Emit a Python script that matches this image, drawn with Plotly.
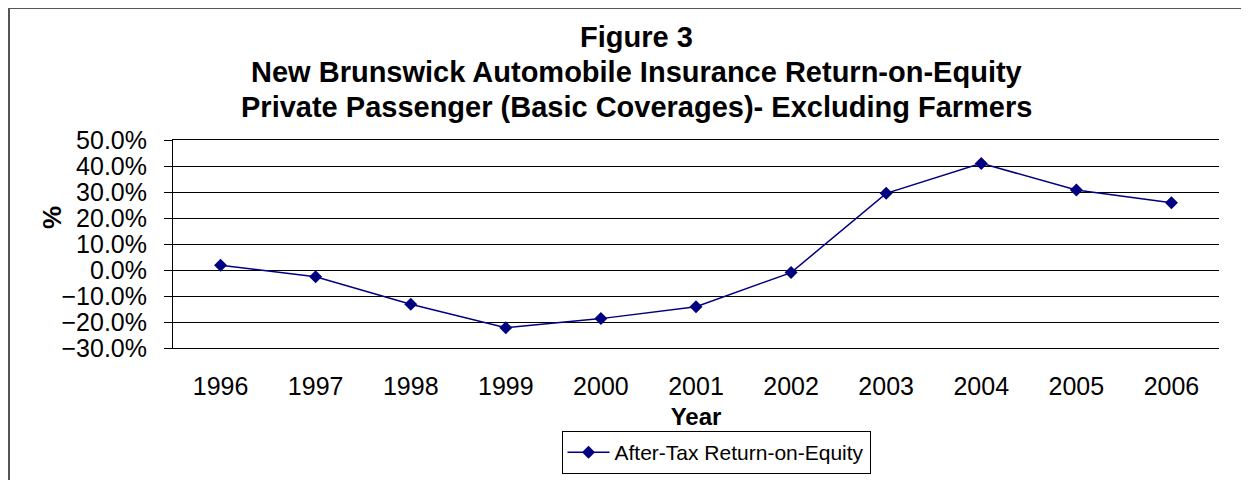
import numpy as np
import plotly.graph_objects as go

years = ["1996", "1997", "1998", "1999", "2000", "2001", "2002", "2003", "2004", "2005", "2006"]
roe = [0.018, -0.026, -0.132, -0.222, -0.187, -0.141, -0.010, 0.295, 0.410, 0.308, 0.259]
series_name = "After-Tax Return-on-Equity"
title_lines = ["Figure 3",
               "New Brunswick Automobile Insurance Return-on-Equity",
               "Private Passenger (Basic Coverages)- Excluding Farmers"]
y_title = "%"
x_title = "Year"

FONT = "Liberation Sans, Arial, sans-serif"
OFF = 8                      # page body margin around the figure
W, H = 1249 - OFF, 480 - OFF
# target page positions of the plotting area
P_LEFT, P_RIGHT, P_TOP, P_BOTTOM = 173, 1219, 140, 348
ML, MT = P_LEFT - OFF, P_TOP - OFF
MR, MB = W - (P_RIGHT - OFF), H - (P_BOTTOM - OFF)
pw, ph = W - ML - MR, H - MT - MB


def px_x(page_x):
    return (page_x - P_LEFT) / pw


def px_y(page_y):
    return (P_BOTTOM - page_y) / ph


fig = go.Figure()
fig.add_trace(go.Scatter(
    x=years, y=roe, mode="lines+markers", name=series_name,
    line=dict(color="#000080", width=1.5),
    marker=dict(symbol="diamond", size=10, color="#000080"),
))

n = len(years)
boundaries = np.arange(n + 1) - 0.5
ymin, ymax = -0.30, 0.50
zero_pos = (0 - ymin) / (ymax - ymin)

fig.update_layout(
    width=W, height=H,
    margin=dict(l=ML, r=MR, t=MT, b=MB, autoexpand=False),
    paper_bgcolor="white", plot_bgcolor="white",
    font=dict(family=FONT, color="black", size=25),
    showlegend=True,
    legend=dict(orientation="h", x=px_x(716), xanchor="center",
                y=px_y(431), yanchor="top",
                bordercolor="black", borderwidth=1, bgcolor="rgba(0,0,0,0)",
                font=dict(family=FONT, size=21, color="black"),
                itemwidth=42),
    xaxis=dict(type="category", range=[-0.5, n - 0.5], showgrid=False, automargin=False,
               showline=True, mirror=True, linecolor="black", linewidth=1,
               ticks="", ticklabelstandoff=16,
               tickfont=dict(family=FONT, size=25, color="black"),
               title=dict(text=x_title, standoff=9,
                          font=dict(family=FONT, size=24, color="black", weight="bold"))),
    xaxis2=dict(overlaying="x", anchor="free", position=zero_pos, type="linear",
                range=[-0.5, n - 0.5], tickmode="array", tickvals=boundaries,
                showticklabels=False, ticks="outside", ticklen=7, tickcolor="black",
                showline=True, linecolor="black", linewidth=1, showgrid=False,
                zeroline=False, automargin=False),
    yaxis=dict(range=[ymin, ymax], dtick=0.1, tick0=0, tickformat=".1%", automargin=False,
               showgrid=True, gridcolor="black", gridwidth=1, zeroline=False,
               showline=True, linecolor="black", linewidth=1,
               ticks="outside", ticklen=8, tickcolor="black", ticklabelstandoff=12,
               tickfont=dict(family=FONT, size=25, color="black")),
)

# y-axis title
fig.add_annotation(text=y_title, xref="paper", yref="paper", x=px_x(52), y=px_y(218),
                   xanchor="center", yanchor="middle", textangle=-90, showarrow=False,
                   font=dict(family=FONT, size=26, color="black", weight="bold"))

# three title lines, centred on the chart area
title_centres = [37, 72, 107]
for line, yc in zip(title_lines, title_centres):
    fig.add_annotation(text=line, xref="paper", yref="paper",
                       x=px_x(636), y=px_y(yc),
                       xanchor="center", yanchor="middle", showarrow=False,
                       font=dict(family=FONT, size=29, color="black", weight="bold"))

# chart-area border (left and top edges visible in the reference)
fig.add_shape(type="rect", xref="paper", yref="paper",
              x0=px_x(9), x1=px_x(1300),
              y0=px_y(600), y1=px_y(8),
              line=dict(color="#555555", width=2), fillcolor="rgba(0,0,0,0)", layer="below")

fig.write_html("out.html")
